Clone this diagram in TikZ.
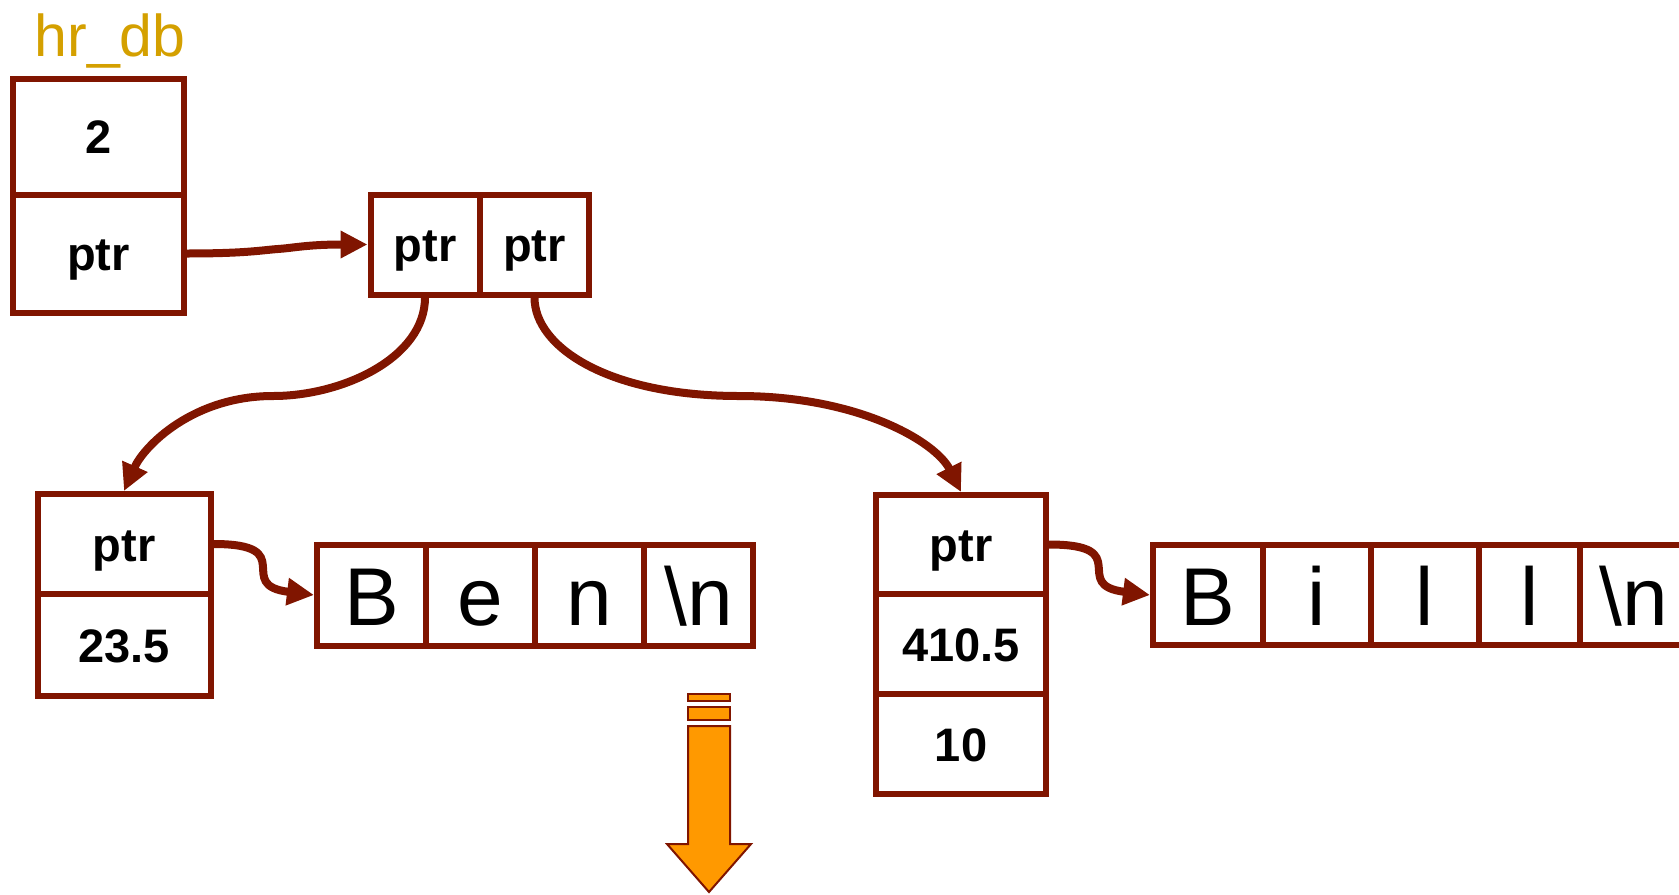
\documentclass[tikz,border=0pt]{standalone}
\usepackage{fontspec}
\setmainfont{Liberation Sans}
\usetikzlibrary{arrows.meta}
\definecolor{boxred}{RGB}{128,21,0}
\definecolor{labelgold}{RGB}{212,160,0}
\definecolor{warnorange}{RGB}{255,153,0}

\begin{document}
\begin{tikzpicture}[x=0.5pt,y=-0.5pt,
  cell/.style 2 args={draw=boxred, line width=3pt, fill=white, inner sep=0pt,
    minimum width=#1*0.5pt, minimum height=#2*0.5pt,
    text height=17pt, text depth=0pt,
    font=\bfseries\fontsize{23.5}{28}\selectfont},
  chr/.style 2 args={cell={#1}{#2}, text height=30.7pt,
    font=\fontsize{41}{48}\selectfont},
  link/.style={draw=boxred, line width=4pt,
    -{Triangle[length=13.5pt,width=13pt]}},
]
\useasboundingbox (0,0) rectangle (1679,894);

% the hr_db record
\node[text=labelgold, font=\fontsize{29.5}{34}\selectfont, anchor=base] (title) at (110,56) {hr\_db};
\node[cell={171}{116}] (cnt) at (98.5,136.5) {2};
\node[cell={171}{118}] (hp) at (98.5,253.5) {ptr};

% array of two pointers
\node[cell={109}{100}] (pl) at (425,244.5) {ptr};
\node[cell={109}{100}] (pr) at (534.5,244.5) {ptr};

% first employee
\node[cell={173}{100}] (lp) at (124,544) {ptr};
\node[cell={173}{102}] (lv) at (124,645) {23.5};
\node[chr={109}{101}] (b1) at (371.5,595) {B};
\node[chr={109}{101}] (b2) at (480.5,595) {e};
\node[chr={109}{101}] (b3) at (589.5,595) {n};
\node[chr={109}{101}] (b4) at (698.5,595) {\textbackslash n};

% second employee
\node[cell={170}{99}] (rp) at (961,544.5) {ptr};
\node[cell={170}{100}] (rv) at (961,644) {410.5};
\node[cell={170}{100}] (rc) at (961,744) {10};
\node[chr={110}{100}] (c1) at (1208,595) {B};
\node[chr={108}{100}] (c2) at (1317,595) {i};
\node[chr={108}{100}] (c3) at (1425,595) {l};
\node[chr={101}{100}] (c4) at (1529.5,595) {l};
\node[chr={108}{100}] (c5) at (1634,595) {\textbackslash n};

% pointers
\coordinate (hm) at (278,249);
\coordinate (lm) at (273,396);
\coordinate (rm) at (739,396);
\draw[link] (hp.east) .. controls +(60,0) and +(-15,1) .. (hm)
  .. controls +(15,-1) and +(-60,0) .. (pl.west);
\draw[link] (pl.south) .. controls +(0,60) and +(70,0) .. (lm)
  .. controls +(-80,0) and +(20,-45) .. (lp.north);
\draw[link] (pr.south) .. controls +(0,50) and +(-130,0) .. (rm)
  .. controls +(120,0) and +(-25,-50) .. (rp.north);
\draw[link] (lp.east) .. controls +(87,0) and +(-81,-10) .. (b1.west);
\draw[link] (rp.east) .. controls +(87,0) and +(-81,-10) .. (c1.west);

% downward arrow
\begin{scope}[draw=boxred, fill=warnorange, line width=1pt]
  \filldraw (688,694) rectangle (730,701);
  \filldraw (688,707) rectangle (730,720);
  \filldraw (688,726) -- (730,726) -- (730,844) -- (751,844) -- (709,892)
    -- (667,844) -- (688,844) -- cycle;
\end{scope}
\end{tikzpicture}
\end{document}
